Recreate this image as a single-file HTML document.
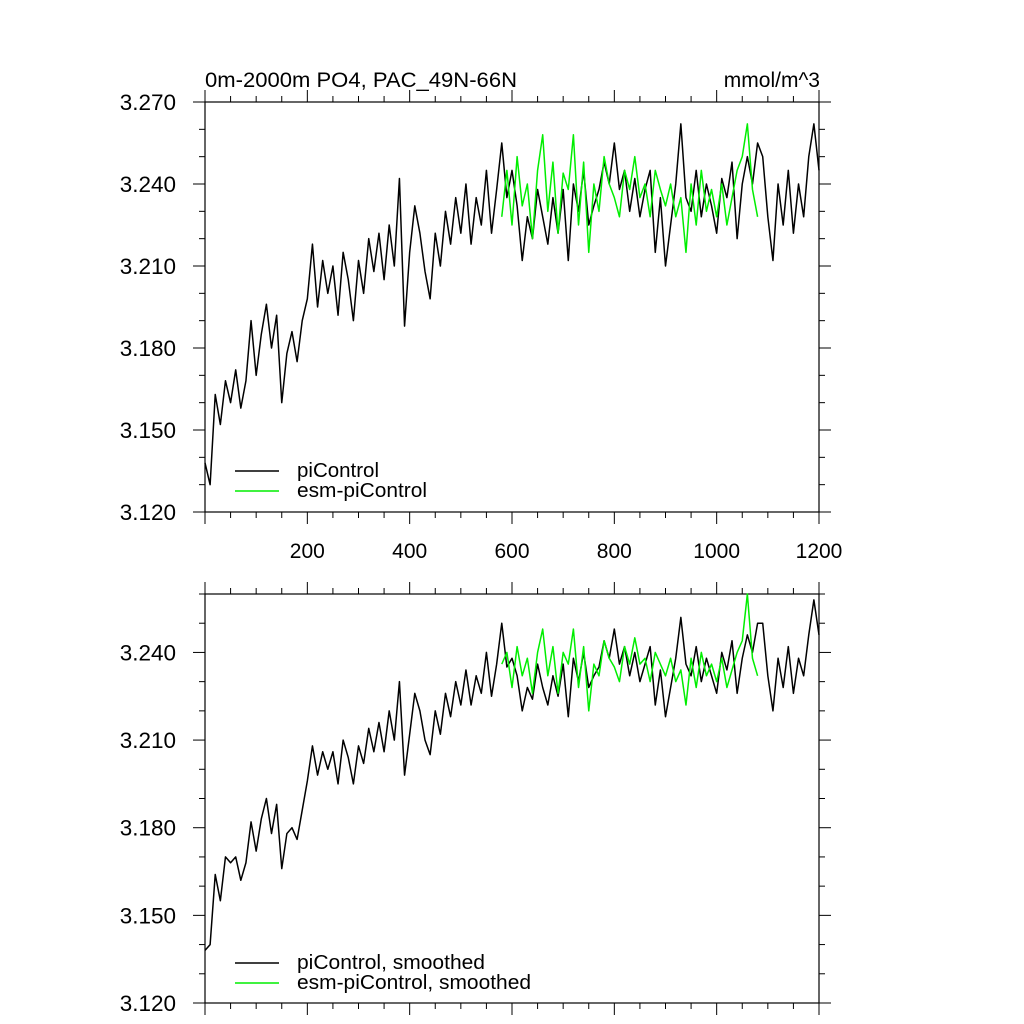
<!DOCTYPE html>
<html><head><meta charset="utf-8"><style>
html,body{margin:0;padding:0;background:#fff;}
svg{display:block;font-family:"Liberation Sans",sans-serif;}
</style></head><body>
<svg id="chart" width="1024" height="1024" viewBox="0 0 1024 1024">
<text x="205" y="87" font-size="21" textLength="312" lengthAdjust="spacingAndGlyphs">0m-2000m PO4, PAC_49N-66N</text>
<text x="820" y="87" font-size="21" text-anchor="end">mmol/m^3</text>
<g id="top"></g>
<g id="bot"></g>
</svg>
<script>
const yearsBlack = Array.from({length:121},(_,i)=>i*10);
const yearsGreen = Array.from({length:51},(_,i)=>580+i*10);
const rawBlack = [3.138,3.130,3.163,3.152,3.168,3.160,3.172,3.158,3.168,3.190,3.170,3.185,3.196,3.180,3.192,3.160,3.178,3.186,3.175,3.190,3.198,3.218,3.195,3.212,3.200,3.210,3.192,3.215,3.205,3.190,3.212,3.200,3.220,3.208,3.222,3.205,3.225,3.210,3.242,3.188,3.215,3.232,3.222,3.208,3.198,3.222,3.210,3.230,3.218,3.235,3.222,3.240,3.218,3.235,3.225,3.245,3.222,3.238,3.255,3.235,3.245,3.232,3.212,3.228,3.220,3.238,3.228,3.218,3.235,3.222,3.238,3.212,3.240,3.230,3.245,3.225,3.232,3.238,3.248,3.240,3.255,3.238,3.245,3.230,3.242,3.228,3.238,3.245,3.215,3.235,3.210,3.225,3.240,3.262,3.235,3.230,3.245,3.228,3.240,3.232,3.222,3.242,3.235,3.248,3.220,3.240,3.250,3.240,3.255,3.250,3.228,3.212,3.240,3.225,3.245,3.222,3.240,3.228,3.250,3.262,3.245];
const rawGreen = [3.228,3.245,3.225,3.250,3.232,3.240,3.220,3.245,3.258,3.230,3.248,3.222,3.244,3.238,3.258,3.225,3.248,3.215,3.240,3.230,3.250,3.240,3.235,3.228,3.245,3.238,3.250,3.235,3.240,3.228,3.245,3.238,3.232,3.240,3.228,3.235,3.215,3.240,3.225,3.245,3.230,3.238,3.228,3.240,3.225,3.235,3.245,3.250,3.262,3.238,3.228];
const smoothBlack = [3.138,3.140,3.164,3.155,3.170,3.168,3.170,3.162,3.168,3.182,3.172,3.183,3.190,3.178,3.188,3.166,3.178,3.180,3.176,3.186,3.196,3.208,3.198,3.206,3.200,3.206,3.195,3.210,3.204,3.195,3.208,3.202,3.214,3.206,3.216,3.206,3.220,3.210,3.230,3.198,3.212,3.226,3.220,3.210,3.205,3.220,3.212,3.226,3.218,3.230,3.222,3.234,3.222,3.232,3.226,3.240,3.225,3.236,3.250,3.235,3.238,3.232,3.220,3.228,3.224,3.236,3.228,3.222,3.232,3.225,3.236,3.218,3.238,3.230,3.240,3.228,3.232,3.235,3.244,3.238,3.248,3.236,3.242,3.232,3.240,3.230,3.236,3.242,3.222,3.234,3.218,3.228,3.238,3.252,3.236,3.232,3.242,3.230,3.238,3.232,3.226,3.240,3.234,3.244,3.226,3.238,3.246,3.240,3.250,3.250,3.232,3.220,3.238,3.228,3.242,3.226,3.238,3.232,3.246,3.258,3.246];
const smoothGreen = [3.236,3.240,3.228,3.242,3.232,3.238,3.226,3.240,3.248,3.232,3.242,3.226,3.240,3.236,3.248,3.228,3.242,3.220,3.236,3.232,3.244,3.238,3.235,3.230,3.242,3.236,3.245,3.236,3.238,3.230,3.240,3.236,3.232,3.238,3.230,3.234,3.222,3.238,3.228,3.240,3.232,3.236,3.230,3.238,3.228,3.234,3.240,3.244,3.260,3.238,3.232];
const xTickLabels = ["200","400","600","800","1000","1200"];
const topYTicks = ["3.120","3.150","3.180","3.210","3.240","3.270"];
const botYTicks = ["3.120","3.150","3.180","3.210","3.240"];

const NS="http://www.w3.org/2000/svg";
function mk(tag,attrs,parent){const e=document.createElementNS(NS,tag);for(const k in attrs)e.setAttribute(k,attrs[k]);parent.appendChild(e);return e;}
const X0=205,X1=819;
const xs=v=>X0+(v-0)/(1200-0)*(X1-X0);

function panel(g,top,bottom,ymin,ymax,yLabels,bx,by,gx,gy,showX,legendY,names,lens){
  const ys=v=>bottom-(v-ymin)/(ymax-ymin)*(bottom-top);
  const f=mk('rect',{x:X0,y:top,width:X1-X0,height:bottom-top,fill:'none',stroke:'#000','stroke-width':1.2},g);
  
  
  for(let v=0;v<=1200;v+=50){
    const maj=v%200===0, L=maj?12:6, x=xs(v);
    const t1=mk('line',{x1:x,x2:x,y1:bottom,y2:bottom+L,stroke:'#000','stroke-width':1},g);
    
    
    const t2=mk('line',{x1:x,x2:x,y1:top,y2:top-L,stroke:'#000','stroke-width':1},g);
    
    
  }
  if(showX){
    xTickLabels.forEach(s=>{
      const t=mk('text',{x:xs(+s),y:bottom+46,'font-size':21,'text-anchor':'middle'},g);t.textContent=s;
      
      
    });
  }
  for(let k=0;;k++){
    const v=ymin+k*0.01; if(v>ymax+1e-9)break;
    const maj=k%3===0, L=maj?12:6, y=ys(v);
    const a=mk('line',{x1:X0-L,x2:X0,y1:y,y2:y,stroke:'#000','stroke-width':1},g);
    
    
    const b=mk('line',{x1:X1,x2:X1+L,y1:y,y2:y,stroke:'#000','stroke-width':1},g);
    
    
  }
  yLabels.forEach(s=>{
    const t=mk('text',{x:176,y:ys(+s)+8,'font-size':22.5,'text-anchor':'end'},g);t.textContent=s;
    
    
  });
  const pb=mk('polyline',{points:bx.map((v,i)=>xs(v)+','+ys(by[i])).join(' '),fill:'none',stroke:'#000','stroke-width':1.5,'stroke-linejoin':'round'},g);
  
  
  const pg=mk('polyline',{points:gx.map((v,i)=>xs(v)+','+ys(gy[i])).join(' '),fill:'none',stroke:'#00ee00','stroke-width':1.5,'stroke-linejoin':'round'},g);
  
  
  [['#000',names[0]],['#00ee00',names[1]]].forEach((d,i)=>{
    const y=legendY+i*20;
    const l=mk('line',{x1:235,x2:279,y1:y,y2:y,stroke:d[0],'stroke-width':1.5},g);
    
    
    const t=mk('text',{x:297,y:y+6,'font-size':20.5,textLength:lens[i],lengthAdjust:'spacingAndGlyphs'},g);t.textContent=d[1];
    
    
  });
}
panel(document.getElementById('top'),102,512,3.12,3.27,topYTicks,yearsBlack,rawBlack,yearsGreen,rawGreen,true,471,['piControl','esm-piControl'],[82,130]);
panel(document.getElementById('bot'),594,1003,3.12,3.26,botYTicks,yearsBlack,smoothBlack,yearsGreen,smoothGreen,false,963,['piControl, smoothed','esm-piControl, smoothed'],[188,234]);
</script>
</body></html>
